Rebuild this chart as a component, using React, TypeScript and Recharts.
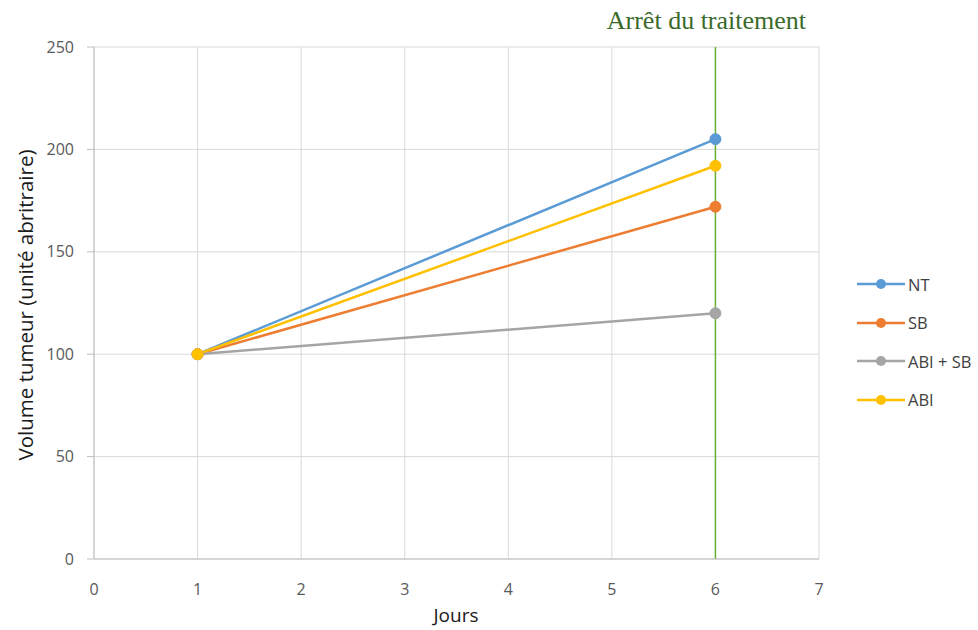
import { CartesianGrid, Line, LineChart, ReferenceLine, XAxis, YAxis } from 'recharts';

const days = [1, 6];
const ntValues = [100, 205];
const sbValues = [100, 172];
const abiSbValues = [100, 120];
const abiValues = [100, 192];
const xTicks = [0, 1, 2, 3, 4, 5, 6, 7];
const yTicks = [0, 50, 100, 150, 200, 250];
const stopDay = 6;

const series = [
    { key: 'NT', name: 'NT', color: '#5B9BD5' },
    { key: 'SB', name: 'SB', color: '#ED7D31' },
    { key: 'ABISB', name: 'ABI + SB', color: '#A5A5A5' },
    { key: 'ABI', name: 'ABI', color: '#FFC000' },
];

const data = days.map((day, i) => ({
    day,
    NT: ntValues[i],
    SB: sbValues[i],
    ABISB: abiSbValues[i],
    ABI: abiValues[i],
}));

const font = "'Open Sans', 'Noto Sans', sans-serif";

const LegendBox = () => (
    <div style={{ position: 'absolute', left: 857, top: 265, fontFamily: font, fontSize: 16.5, color: '#404040' }}>
        {series.map((s) => (
            <div key={s.key} style={{ display: 'flex', alignItems: 'center', height: 38.5 }}>
                <svg width={50} height={14} style={{ marginRight: 1 }}>
                    <line x1={0} y1={7} x2={48} y2={7} stroke={s.color} strokeWidth={2.5} />
                    <circle cx={24} cy={7} r={5} fill={s.color} />
                </svg>
                <span>{s.name}</span>
            </div>
        ))}
    </div>
);

const App = () => {
    return (
        <div style={{ position: 'absolute', left: 0, top: 0, width: 978, height: 630, background: '#fff' }}>
            <LineChart width={978} height={630} data={data} margin={{ top: 47, right: 159, bottom: 0, left: 0 }}>
                <CartesianGrid stroke="#d9d9d9" strokeWidth={1} />
                <XAxis
                    dataKey="day"
                    type="number"
                    domain={[0, 7]}
                    ticks={xTicks}
                    interval={0}
                    height={71}
                    stroke="#bfbfbf"
                    tickLine={false}
                    tickMargin={19}
                    tick={{ fill: '#595959', fontSize: 16, fontFamily: font }}
                    label={{
                        content: () => (
                            <text x={456} y={622} textAnchor="middle" fill="#1a1a1a" fontSize={19} fontFamily={font}>
                                Jours
                            </text>
                        ),
                    }}
                />
                <YAxis
                    type="number"
                    domain={[0, 250]}
                    ticks={yTicks}
                    interval={0}
                    width={94}
                    stroke="#bfbfbf"
                    tickSize={7}
                    tickMargin={13}
                    tick={{ fill: '#595959', fontSize: 16, fontFamily: font }}
                    label={{
                        content: () => (
                            <text
                                x={25}
                                y={305}
                                transform="rotate(-90 25 305)"
                                textAnchor="middle"
                                dominantBaseline="central"
                                fill="#1a1a1a"
                                fontSize={20.5}
                                fontFamily={font}
                            >
                                Volume tumeur (unité abritraire)
                            </text>
                        ),
                    }}
                />
                <ReferenceLine
                    x={stopDay}
                    stroke="#66B032"
                    strokeWidth={1.5}
                    label={{
                        content: (props: any) => (
                            <text
                                x={props.viewBox.x - 9}
                                y={29}
                                textAnchor="middle"
                                fill="#3A6A2A"
                                fontSize={26}
                                fontFamily="'Liberation Serif', 'DejaVu Serif', serif"
                            >
                                Arrêt du traitement
                            </text>
                        ),
                    }}
                />
                {series.map((s) => (
                    <Line
                        key={s.key}
                        dataKey={s.key}
                        name={s.name}
                        stroke={s.color}
                        strokeWidth={2.5}
                        dot={{ r: 5.5, fill: s.color, stroke: s.color, strokeWidth: 1 }}
                        activeDot={false}
                        isAnimationActive={false}
                    />
                ))}
            </LineChart>
            <LegendBox />
        </div>
    );
};

export default App;
